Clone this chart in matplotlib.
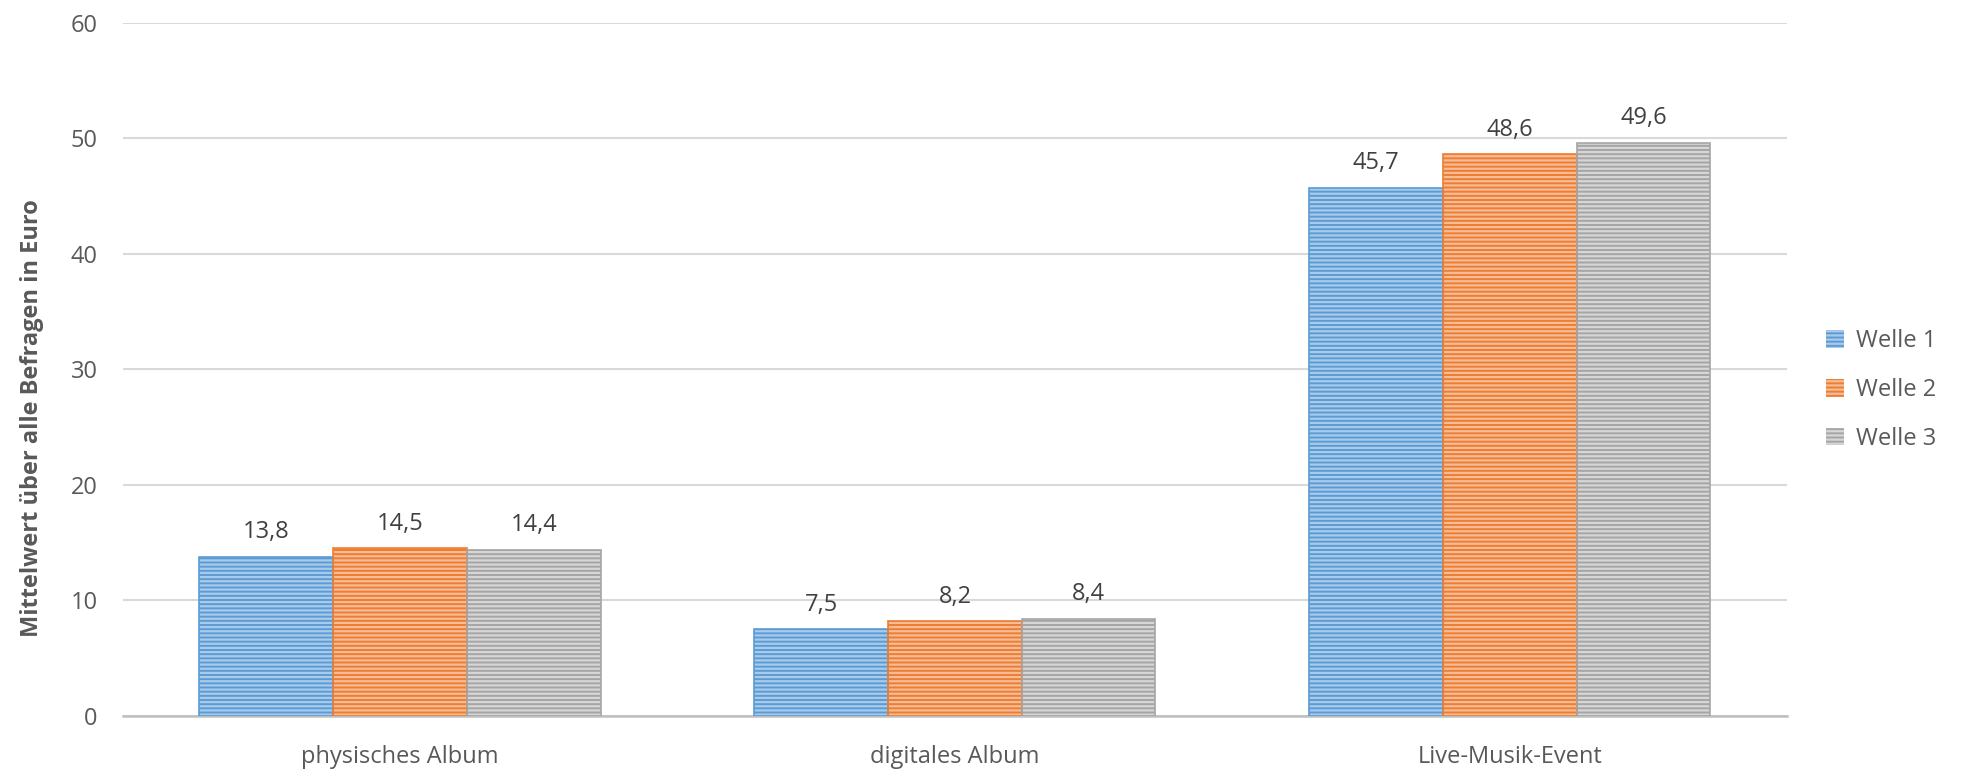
import numpy as np
import matplotlib.pyplot as plt
from matplotlib.patches import Patch

plt.rcParams['font.family'] = ['Open Sans', 'DejaVu Sans']
plt.rcParams['hatch.linewidth'] = 1.6

categories = ['physisches Album', 'digitales Album', 'Live-Musik-Event']
series = ['Welle 1', 'Welle 2', 'Welle 3']
welle1 = [13.8, 7.5, 45.7]
welle2 = [14.5, 8.2, 48.6]
welle3 = [14.4, 8.4, 49.6]
values = [welle1, welle2, welle3]

colors = ['#5B9BD5', '#ED7D31', '#A5A5A5']
stripes = ['#A9CBEA', '#F6BC97', '#D6D6D6']
text_col = '#595959'

fig = plt.figure(figsize=(19.64, 7.71), dpi=100)
ax = fig.add_axes([0.0624, 0.0713, 0.8476, 0.8995])

x = np.arange(len(categories))
w = 0.241
handles = []
for i, (vals, c, s) in enumerate(zip(values, colors, stripes)):
    pos = x + (i - 1) * w
    # striped fill, then a plain outline on top
    ax.bar(pos, vals, w, color=c, edgecolor=s, linewidth=0, hatch='----', zorder=2)
    ax.bar(pos, vals, w, fill=False, edgecolor=c, linewidth=1.2, zorder=3)
    for p, v in zip(pos, vals):
        ax.annotate(f'{v:.1f}'.replace('.', ','), (p, v), xytext=(0, 9),
                    textcoords='offset points', ha='center', va='bottom',
                    fontsize=17, color='#404040')
    handles.append(Patch(facecolor=c, edgecolor=s, hatch='----', linewidth=0, label=series[i]))

ax.set_xlim(-0.5, 2.5)
ax.set_ylim(0, 60)
ax.set_yticks(range(0, 61, 10))
ax.set_xticks(x)
ax.set_xticklabels(categories)
ax.grid(axis='y', color='#D9D9D9', linewidth=1.5, zorder=0)
ax.set_axisbelow(True)
for sp in ['top', 'right', 'left']:
    ax.spines[sp].set_visible(False)
ax.spines['bottom'].set_color('#BFBFBF')
ax.spines['bottom'].set_linewidth(1.8)
ax.tick_params(axis='both', length=0, labelsize=17, labelcolor=text_col)
ax.tick_params(axis='y', pad=18)
ax.tick_params(axis='x', pad=21)
ax.set_ylabel('Mittelwert über alle Befragen in Euro', fontsize=17, fontweight='bold',
              color=text_col)
ax.yaxis.set_label_coords(-0.047, 0.43)

fig.legend(handles=handles, loc='center left', bbox_to_anchor=(0.925, 0.494),
           frameon=False, fontsize=17, labelcolor=text_col, handlelength=0.75,
           handleheight=0.75, handletextpad=0.5, labelspacing=1.05,
           borderaxespad=0)

fig.savefig('out.png', dpi=100)
